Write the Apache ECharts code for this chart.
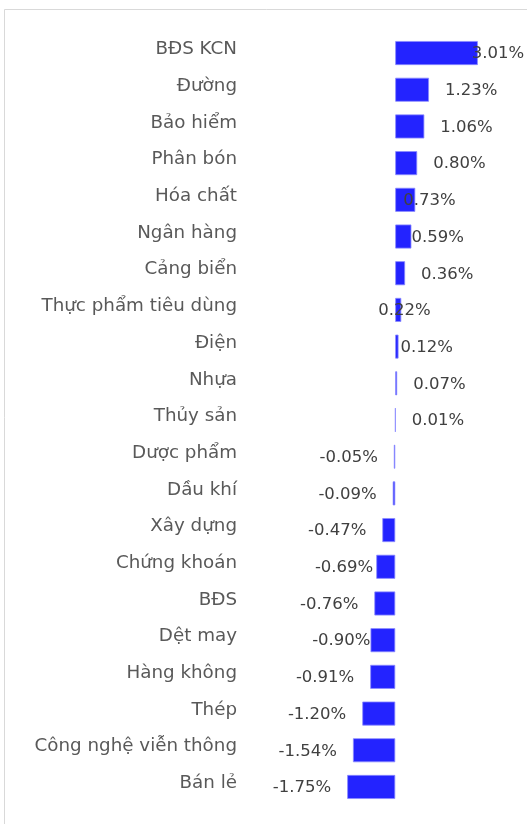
<!DOCTYPE html>
<html>
<head>
<meta charset="utf-8">
<script src="https://cdn.jsdelivr.net/npm/echarts@6/dist/echarts.min.js"></script>
<style>
  html, body { margin: 0; padding: 0; background: #fff; }
  #chart { width: 527px; height: 824px; }
</style>
</head>
<body>
<div id="chart"></div>
<script>
var categories = ['BĐS KCN', 'Đường', 'Bảo hiểm', 'Phân bón', 'Hóa chất', 'Ngân hàng', 'Cảng biển',
    'Thực phẩm tiêu dùng', 'Điện', 'Nhựa', 'Thủy sản', 'Dược phẩm', 'Dầu khí', 'Xây dựng',
    'Chứng khoán', 'BĐS', 'Dệt may', 'Hàng không', 'Thép', 'Công nghệ viễn thông', 'Bán lẻ'];
var values = [3.01, 1.23, 1.06, 0.80, 0.73, 0.59, 0.36, 0.22, 0.12, 0.07, 0.01,
    -0.05, -0.09, -0.47, -0.69, -0.76, -0.90, -0.91, -1.20, -1.54, -1.75];

// labels that were dragged by hand in the original (px shift from the default spot)
var labelNudge = {
    'BĐS KCN': -22, 'Hóa chất': -28, 'Ngân hàng': -16, 'Thực phẩm tiêu dùng': -39,
    'Điện': -14, 'Chứng khoán': 13, 'Dệt may': 16
};

var barData = values.map(function (v, i) {
    return {
        value: v,
        label: {
            position: v < 0 ? 'left' : 'right',
            offset: [labelNudge[categories[i]] || 0, 1]
        }
    };
});

var chart = echarts.init(document.getElementById('chart'));
chart.setOption({
    backgroundColor: '#fff',
    animation: false,
    graphic: [{
        type: 'rect',
        shape: { x: 4.5, y: 9.5, width: 600, height: 900 },
        style: { fill: 'none', stroke: '#d9d9d9', lineWidth: 1 },
        silent: true
    }],
    grid: { left: 258, right: 22, top: 34.7, bottom: 18.7 },
    xAxis: {
        type: 'value',
        min: -5,
        max: 4,
        axisLine: { show: false },
        axisTick: { show: false },
        axisLabel: { show: false },
        splitLine: { show: false }
    },
    yAxis: {
        type: 'category',
        data: categories,
        inverse: true,
        axisLine: { show: false },
        axisTick: { show: false },
        axisLabel: {
            margin: 21,
            color: '#595959',
            fontFamily: 'DejaVu Sans',
            fontSize: 18.3,
            verticalAlign: 'bottom',
            lineHeight: 7
        }
    },
    series: [{
        type: 'bar',
        data: barData,
        barWidth: 24,
        itemStyle: { color: '#2323ff', borderColor: '#8a8aff', borderWidth: 0.8 },
        label: {
            show: true,
            distance: 16,
            color: '#404040',
            fontFamily: 'DejaVu Sans',
            fontSize: 16.5,
            formatter: function (p) { return p.value.toFixed(2) + '%'; }
        }
    }]
});
</script>
</body>
</html>
